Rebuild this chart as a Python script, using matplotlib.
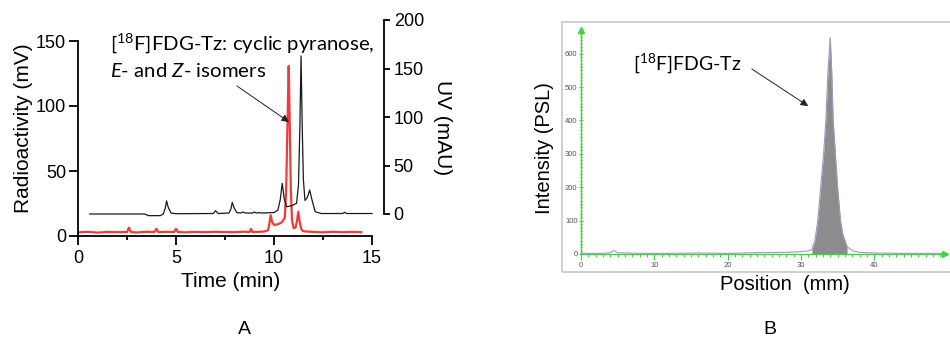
import numpy as np
import matplotlib
matplotlib.use("Agg")
import matplotlib.pyplot as plt
from matplotlib.patches import Rectangle

plt.rcParams['font.family'] = ['Liberation Sans', 'DejaVu Sans']
plt.rcParams['mathtext.fontset'] = 'custom'
plt.rcParams['mathtext.rm'] = 'Lato'
plt.rcParams['mathtext.it'] = 'Lato:italic'

# ---- Panel A: radio-HPLC (mV) and UV (mAU) traces ----
radio_time = [0.0, 0.5, 1.0, 1.5, 2.0, 2.5, 2.6, 2.7, 3.0, 3.5, 3.9, 4.0, 4.1, 4.5,
              4.9, 5.0, 5.1, 5.5, 6.0, 6.5, 7.0, 7.5, 8.0, 8.5, 8.75, 8.83, 8.9, 9.2,
              9.5, 9.7, 9.77, 9.83, 9.9, 10.0, 10.2, 10.4, 10.55, 10.62, 10.68, 10.75,
              10.8, 10.86, 10.92, 11.0, 11.1, 11.18, 11.24, 11.3, 11.38, 11.45, 11.6,
              12.0, 12.5, 13.0, 13.5, 14.0, 14.45]
radio_mv = [2.8, 3.2, 2.6, 3.1, 2.9, 3.0, 6.4, 3.0, 2.7, 3.2, 3.0, 5.5, 2.9, 3.2,
            3.0, 5.5, 3.0, 2.8, 3.1, 2.9, 3.2, 3.0, 2.9, 3.3, 3.0, 5.4, 3.0, 3.2,
            3.4, 4.5, 10.0, 16.0, 11.0, 8.5, 9.0, 10.5, 14.0, 35.0, 80.0, 130.8,
            90.0, 35.0, 12.0, 6.0, 6.5, 12.0, 18.7, 12.0, 6.0, 4.0, 3.5,
            3.1, 2.8, 3.2, 2.9, 3.1, 2.9]

uv_time = [0.6, 3.4, 3.6, 4.2, 4.35, 4.45, 4.52, 4.6, 4.75, 5.0, 6.9, 7.02, 7.15,
           7.7, 7.8, 7.87, 7.95, 8.1, 8.3, 8.42, 8.55, 8.9, 9.0, 9.1, 9.25, 9.35,
           9.45, 10.0, 10.2, 10.32, 10.42, 10.52, 10.64, 10.9, 11.15, 11.25, 11.32,
           11.38, 11.44, 11.5, 11.58, 11.7, 11.82, 11.92, 12.1, 12.4, 13.5, 13.6,
           13.7, 15.0]
uv_mau = [0.0, 0.0, -1.7, -1.7, 0.0, 6.0, 13.5, 7.0, 1.0, 0.3, 0.5, 3.4, 0.5,
          1.0, 5.0, 12.0, 7.0, 1.5, 1.0, 2.0, 1.0, 1.0, 2.0, 1.0, 1.5, 1.0,
          1.0, 1.5, 4.0, 15.0, 31.6, 16.0, 7.5, 8.5, 11.0, 30.0, 90.0,
          163.0, 90.0, 35.0, 14.0, 17.0, 24.7, 16.0, 2.4, 0.5, 0.5, 1.8,
          0.5, 0.5]

# ---- Panel B: radio-TLC scan ----
tlc_pos = [0.0, 3.0, 4.0, 4.5, 5.0, 8.0, 12.0, 16.0, 20.0, 24.0, 28.0, 30.0, 31.0,
           31.5, 31.9, 32.3, 32.7, 33.1, 33.4, 33.7, 34.0, 34.2, 34.4, 34.7, 35.0,
           35.4, 35.7, 36.3, 37.0, 38.0, 40.0, 44.0, 50.0]
tlc_psl = [2, 2, 4, 10, 4, 2, 2, 3, 2, 4, 5, 7, 9,
           14, 40, 100, 200, 300, 400, 550, 648, 550, 400, 300, 200,
           100, 60, 22, 10, 5, 3, 2, 2]
peak_lo, peak_hi = 31.5, 36.3

fig = plt.figure(figsize=(9.5, 3.39), dpi=100)
W, H = 950.0, 339.0

def box(x0, y0, x1, y1):
    # pixel box (top-left origin) -> figure fraction
    return [x0 / W, 1 - y1 / H, (x1 - x0) / W, (y1 - y0) / H]

# ===== Panel A =====
ax = fig.add_axes(box(78, 20, 384, 236))
ax.plot(radio_time, radio_mv, color='#f23a3a', lw=1.6, zorder=2)
ax.set_xlim(0, 15 * 306 / 294)
ax.set_ylim(0, 216 / 1.3)
ax.spines['top'].set_visible(False)
ax.spines['right'].set_visible(False)
ax.spines['left'].set_bounds(0, 150)
ax.spines['bottom'].set_bounds(0, 15)
for s in ('left', 'bottom'):
    ax.spines[s].set_linewidth(1.3)
ax.set_xticks([0, 5, 10, 15])
ax.set_xticks([2.5, 7.5, 12.5], minor=True)
ax.set_yticks([0, 50, 100, 150])
ax.tick_params(axis='both', which='major', labelsize=13, length=6.5, width=1.3)
ax.tick_params(axis='x', which='minor', length=3, width=1.3)
ax.tick_params(axis='y', pad=2)
ax.set_xlabel('Time (min)', fontsize=15, labelpad=4)
ax.set_ylabel('Radioactivity (mV)', fontsize=15, labelpad=2)
ax.patch.set_visible(False)

ax2 = ax.twinx()
ax2.plot(uv_time, uv_mau, color='#1a1a1a', lw=0.9, zorder=3)
ax2.set_ylim((214 - 236) / 0.97, 200)
for s in ('left', 'top', 'bottom'):
    ax2.spines[s].set_visible(False)
ax2.spines['right'].set_bounds(0, 200)
ax2.spines['right'].set_linewidth(1.3)
ax2.set_yticks([0, 50, 100, 150, 200])
ax2.tick_params(axis='y', labelsize=13, length=4, width=1.3, pad=3)
ax2.set_ylabel('UV (mAU)', fontsize=15, rotation=-90, labelpad=20)

fig.text(110 / W, 1 - 50 / H, r'[$^{18}$F]FDG-Tz: cyclic pyranose,',
         fontsize=14.7, family='Lato', va='baseline', ha='left')
fig.text(110 / W, 1 - 77 / H, r'$\mathit{E}$- and $\mathit{Z}$- isomers',
         fontsize=14.7, family='Lato', va='baseline', ha='left')
ax2.annotate('', xy=(10.77, 87.7), xytext=(8.11, 115.4),
             xycoords=ax.transData, textcoords=ax.transData,
             arrowprops=dict(arrowstyle='-|>', color='#222222', lw=0.7,
                             mutation_scale=11, shrinkA=0, shrinkB=0))
fig.text(244 / W, 1 - 330 / H, 'A', fontsize=14, ha='center', va='center')

# ===== Panel B =====
green = '#3fd43f'
bx = fig.add_axes(box(562, 22, 955, 272))
bx.set_xlim(-19 / 7.33, (955 - 581) / 7.33)
bx.set_ylim(-18 / 0.334, 232 / 0.334)
tlc_pos_a = np.array(tlc_pos)
tlc_psl_a = np.array(tlc_psl)
sel = (tlc_pos_a >= peak_lo) & (tlc_pos_a <= peak_hi)
bx.fill_between(tlc_pos_a[sel], 0, tlc_psl_a[sel], color='#8c8c8c', lw=0, zorder=2)
bx.plot(tlc_pos, tlc_psl, color='#9a9ac8', lw=0.8, zorder=3)
for s in ('top', 'right'):
    bx.spines[s].set_visible(False)
bx.spines['left'].set_position(('data', 0))
bx.spines['bottom'].set_position(('data', 0))
bx.spines['left'].set_bounds(0, 672)
bx.spines['bottom'].set_bounds(0, 49.6)
for s in ('left', 'bottom'):
    bx.spines[s].set_color(green)
    bx.spines[s].set_linewidth(1.0)
bx.plot([0], [672], marker='^', color=green, ms=5, clip_on=False, zorder=4)
bx.plot([49.6], [0], marker='>', color=green, ms=5, clip_on=False, zorder=4)
bx.set_xticks([0, 10, 20, 30, 40])
bx.set_xticks(np.arange(1, 50), minor=True)
bx.set_yticks([0, 100, 200, 300, 400, 500, 600])
bx.set_yticks(np.arange(10, 670, 10), minor=True)
bx.tick_params(axis='both', which='both', colors=green, labelcolor='#555555',
               labelsize=5.5, width=0.8)
bx.tick_params(axis='x', which='major', length=4, direction='out', pad=2)
bx.tick_params(axis='x', which='minor', length=2.5, direction='out')
bx.tick_params(axis='y', which='major', length=3, direction='inout', pad=1)
bx.tick_params(axis='y', which='minor', length=2, direction='inout')
bx.add_patch(Rectangle((0, 0), 1, 1, transform=bx.transAxes, fill=False,
                       ec='#c8c8c8', lw=1.2, clip_on=False))
bx.patch.set_visible(False)
fig.text(545 / W, 1 - 148 / H, 'Intensity (PSL)', fontsize=14.5, rotation=90,
         ha='center', va='center')
fig.text(785 / W, 1 - 285 / H, 'Position  (mm)', fontsize=14.5,
         ha='center', va='center')
fig.text(633 / W, 1 - 70 / H, r'[$^{18}$F]FDG-Tz', fontsize=14, family='Lato',
         va='baseline', ha='left')
bx.annotate('', xy=(31.0, 443), xytext=(23.3, 554),
            arrowprops=dict(arrowstyle='-|>', color='#222222', lw=0.7,
                            mutation_scale=11, shrinkA=0, shrinkB=0))
fig.text(770 / W, 1 - 330 / H, 'B', fontsize=14, ha='center', va='center')

fig.savefig('out.png', dpi=100)
